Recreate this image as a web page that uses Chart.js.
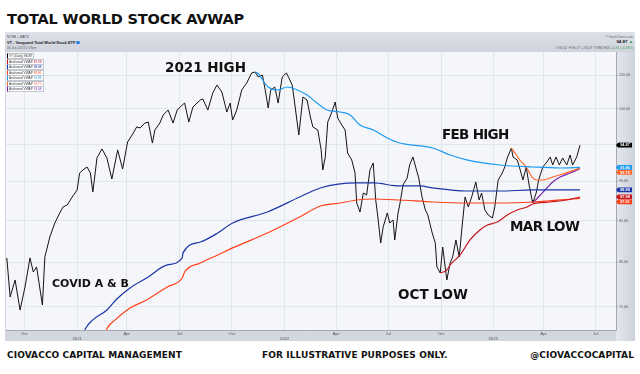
<!DOCTYPE html>
<html>
<head>
<meta charset="utf-8">
<script src="https://cdn.jsdelivr.net/npm/chart.js@4.4.1/dist/chart.umd.min.js"></script>
<style>
  html, body { margin: 0; padding: 0; background: #fff; }
  body { width: 640px; height: 374px; position: relative; overflow: hidden; font-family: "DejaVu Sans", sans-serif; }
  #title { position: absolute; left: 7px; top: 11.6px; font-size: 14.5px; font-weight: bold; letter-spacing: -0.15px; line-height: 1; color: #111; white-space: nowrap; }
  #shot { position: absolute; left: 5px; top: 32px; width: 630px; height: 309px; background: #d3d7e0; }
  #hdr { position: absolute; left: 0; top: 0; width: 630px; height: 20px; background: linear-gradient(#dde0e8, #cfd3dc); font-family: "Liberation Sans", sans-serif; color: #444; }
  #hdr div { position: absolute; white-space: nowrap; line-height: 1; }
  #wrap { position: absolute; left: 1px; top: 20px; width: 629px; height: 289px; }
  .lg { position: absolute; left: 2px; height: 4.4px; line-height: 4.4px; background: #fff; border: 0.4px solid #c3c7d0; border-left-width: 1.3px; font-family: "Liberation Sans", sans-serif; font-size: 3.2px; color: #333; padding: 0 1px; white-space: nowrap; }
  .ann { position: absolute; font-weight: bold; color: #111; line-height: 1; white-space: nowrap; font-size: 13.5px; }
  .foot { position: absolute; top: 351px; font-size: 9px; font-weight: bold; color: #111; line-height: 1; white-space: nowrap; letter-spacing: 0.1px; }
</style>
</head>
<body>
<div id="title">TOTAL WORLD STOCK AVWAP</div>

<div id="shot">
  <div id="hdr">
    <div style="left:2px; top:4px; font-size:3.4px;">NYSE + BATS</div>
    <div style="left:2px; top:8.6px; font-size:3.9px; font-weight:bold; color:#222;">VT - Vanguard Total World Stock ETF <span style="display:inline-block;width:3.4px;height:3.4px;border-radius:50%;background:#2a7de1;vertical-align:-0.5px;"></span></div>
    <div style="left:2px; top:14.5px; font-size:3.2px; color:#666;">06-Jun-2023 2:59pm</div>
    <div style="right:2px; top:4px; font-size:3.2px; color:#666;">© StockCharts.com</div>
    <div style="right:2px; top:8.4px; font-size:4.4px; font-weight:bold; color:#111;">94.87 <span style="color:#2e9e4f;">▲</span></div>
    <div style="right:2px; top:14.5px; font-size:3.2px; color:#555;">O 94.52 &nbsp;H 95.17 &nbsp;L 94.47 &nbsp;V 896,961k <span style="color:#2e9e4f;">+0.31 (+0.33%)</span></div>
  </div>
  <div id="wrap"><canvas id="c" width="629" height="289"></canvas></div>
  <div id="legend"></div>
</div>

<div class="ann" style="left:165px; top:61.4px;">2021 HIGH</div>
<div class="ann" style="left:442px; top:128.4px; letter-spacing:-0.7px;">FEB HIGH</div>
<div class="ann" style="left:510px; top:220.4px; letter-spacing:-0.6px;">MAR LOW</div>
<div class="ann" style="left:398px; top:288.4px;">OCT LOW</div>
<div class="ann" style="left:52px; top:277.7px; font-size:11px;">COVID A &amp; B</div>

<div class="foot" style="left:7px;">CIOVACCO CAPITAL MANAGEMENT</div>
<div class="foot" style="left:262px;">FOR ILLUSTRATIVE PURPOSES ONLY.</div>
<div class="foot" style="right:6px;">@CIOVACCOCAPITAL</div>

<script>
// x = trading-day index from the left edge of the chart (about 31 Aug 2020)
const xTickBars = [22, 86, 146, 210, 273, 337, 399, 462, 526, 589, 650, 713];
const xTickLabels = ['Oct', '2021', 'Apr', 'Jul', 'Oct', '2022', 'Apr', 'Jul', 'Oct', '2023', 'Apr', 'Jul'];
const yTickValues = [75, 80, 85, 90, 95, 100, 105];

// VT daily close
const priceBars = [1,5,11,17,23,29,33,37,44,47,53,59,65,69,74,80,86,89,93,98,102,105,110,116,122,128,135,141,147,154,158,162,168,172,177,180,186,190,196,202,207,213,216,221,226,235,238,244,250,255,261,267,271,274,279,285,291,297,301,305,310,313,317,320,325,329,334,339,342,346,349,354,359,364,368,371,377,381,383,386,389,394,398,401,406,410,413,418,422,424,428,432,436,440,444,447,450,453,456,461,464,468,470,474,476,480,485,488,492,497,499,503,507,510,515,519,521,525,528,531,533,537,540,544,548,551,555,559,563,568,572,575,579,583,588,591,595,600,603,606,611,613,618,621,625,629,632,636,637,641,644,649,654,658,661,665,669,673,678,682,685,690,694];
const priceValues = [80.51,76.06,77.97,74.63,77.18,80.51,78.88,79.46,75.18,80.63,83.00,84.71,85.95,86.71,86.96,87.97,88.88,91.10,91.50,91.90,91.10,88.62,93.12,94.35,93.12,90.31,94.21,91.63,95.31,96.57,97.42,97.28,97.98,98.12,95.17,96.99,97.98,99.13,99.85,97.98,99.85,100.58,100.87,98.12,100.29,101.32,101.47,99.85,102.36,103.55,102.50,99.56,100.87,98.41,99.85,102.80,103.85,105.38,105.53,104.77,105.07,103.10,100.15,102.80,103.25,100.87,104.77,105.38,104.62,103.55,100.87,96.29,101.76,101.32,98.84,97.42,96.99,94.21,91.50,93.25,98.12,99.56,101.02,98.70,97.70,96.99,93.79,92.85,91.10,87.21,86.08,88.49,88.23,91.50,92.44,87.59,85.08,82.28,84.21,85.95,84.71,85.08,82.64,85.95,86.96,89.53,90.44,92.17,93.25,91.23,90.44,87.97,86.33,85.70,83.60,82.28,79.46,78.76,81.80,79.46,77.97,79.92,80.63,82.64,80.63,83.85,87.97,86.71,87.97,89.92,87.59,88.49,86.33,85.70,85.33,86.71,90.18,91.10,91.90,93.12,94.48,93.25,92.85,91.77,90.18,91.90,89.79,87.59,87.21,88.49,90.18,91.90,92.58,93.25,92.17,93.25,92.17,93.12,92.17,93.52,92.17,93.25,94.87];

// anchored VWAP lines
const covidABars = [92,96,105,122,134,150,170,195,213,214,235,256,274,316,355,380,424,444,476,501,516,557,597,637,694];
const covidAValues = [71.65,72.63,73.56,74.63,75.84,77.06,78.19,79.69,80.51,81.10,82.40,83.48,84.71,86.08,87.97,89.14,89.79,89.79,89.40,89.40,89.14,88.75,88.75,88.88,88.88];
const covidBBars = [118,122,132,150,170,195,213,216,235,256,274,316,355,380,404,424,444,476,516,557,597,637,694];
const covidBValues = [71.65,72.63,73.56,74.85,75.73,77.18,78.19,78.88,79.92,80.86,81.69,83.48,85.45,86.83,87.21,87.59,87.72,87.59,87.34,87.21,87.21,87.34,87.81];
const highBars = [301,304,317,328,340,352,364,376,388,404,416,428,444,461,476,501,516,537,557,597,637,670,694];
const highValues = [105.53,105.38,103.25,102.80,103.25,102.80,102.06,100.87,99.85,99.56,99.13,97.70,96.99,95.87,95.17,94.76,94.48,93.52,92.85,92.17,91.90,91.77,91.86];
const octBars = [525,533,537,549,561,573,582,594,606,618,630,637,658,678,694];
const octValues = [78.76,79.10,79.69,80.86,82.64,83.85,84.46,84.83,85.70,86.33,86.71,87.09,87.34,87.59,87.98];
const febBars = [611,617,621,629,636,642,649,661,673,694];
const febValues = [94.48,93.52,92.85,91.90,90.57,90.18,90.18,90.57,90.97,91.75];
const marBars = [637,646,654,661,670,682,694];
const marValues = [87.21,88.23,89.14,89.92,90.57,91.10,91.68];

function pts(bars, vals) {
    return bars.map((b, i) => ({ x: b, y: vals[i] }));
}

function vwap(label, bars, vals, color, tag) {
    return {
        label: label,
        data: pts(bars, vals),
        borderColor: color,
        borderWidth: 1.2,
        pointRadius: 0,
        cubicInterpolationMode: 'monotone',
        order: 1,
        tag: tag
    };
}

const datasets = [
    vwap('Anchored VWAP', octBars, octValues, '#c8161f', true),
    vwap('Anchored VWAP', covidABars, covidAValues, '#1b34a8', true),
    vwap('Anchored VWAP', covidBBars, covidBValues, '#ff4119', true),
    vwap('Anchored VWAP', highBars, highValues, '#1e9af0', true),
    vwap('Anchored VWAP', febBars, febValues, '#ff6a2e', true),
    vwap('Anchored VWAP', marBars, marValues, '#7b22b0', false),
    {
        label: 'VT (Daily)',
        data: pts(priceBars, priceValues),
        borderColor: '#141414',
        borderWidth: 1,
        pointRadius: 0,
        tension: 0,
        order: 10,
        tag: true,
        tagColor: '#000'
    }
];

// petite légende en haut à gauche
const legendRows = [datasets[6], datasets[0], datasets[1], datasets[2], datasets[3], datasets[4], datasets[5]];
const legendCenters = [23, 29, 34, 40, 45, 51, 56];
const legendBox = document.getElementById('legend');
legendRows.forEach((ds, i) => {
    const last = ds.data[ds.data.length - 1].y.toFixed(2);
    const col = ds.tagColor || ds.borderColor;
    const row = document.createElement('div');
    row.className = 'lg';
    row.style.top = (legendCenters[i] - 2.4) + 'px';
    row.style.borderLeftColor = col;
    row.innerHTML = ds.label + ' <span style="color:' + col + '">' + last + '</span>';
    legendBox.appendChild(row);
});

// fonds du graphique
const bgPlugin = {
    id: 'bg',
    beforeDraw(chart) {
        const { ctx, chartArea: a, width, height } = chart;
        ctx.save();
        const g = ctx.createLinearGradient(a.right, 0, width, 0);
        g.addColorStop(0, '#e4e7ee');
        g.addColorStop(1, '#cdd1da');
        ctx.fillStyle = g;
        ctx.fillRect(a.right, 0, width - a.right, height);
        ctx.fillStyle = '#d3d7e0';
        ctx.fillRect(0, a.bottom, a.right, height - a.bottom);
        ctx.fillStyle = '#f5f6fa';
        ctx.fillRect(a.left, a.top, a.right - a.left, a.bottom - a.top);
        ctx.restore();
    }
};

// étiquettes de prix sur l'axe de droite
const tagPlugin = {
    id: 'tags',
    afterDraw(chart) {
        const { ctx, chartArea: a } = chart;
        const ys = chart.scales.y;
        const tags = [];
        chart.data.datasets.forEach(ds => {
            if (!ds.tag) return;
            const v = ds.data[ds.data.length - 1].y;
            tags.push({ v: v, y: ys.getPixelForValue(v), c: ds.tagColor || ds.borderColor });
        });
        tags.sort((p, q) => p.y - q.y);
        for (let i = 1; i < tags.length; i++) {
            if (tags[i].y < tags[i - 1].y + 5) tags[i].y = tags[i - 1].y + 5;
        }
        ctx.save();
        ctx.font = 'bold 3.8px "Liberation Sans"';
        ctx.textAlign = 'center';
        ctx.textBaseline = 'middle';
        tags.forEach(t => {
            ctx.fillStyle = t.c;
            ctx.beginPath();
            ctx.moveTo(a.right, t.y);
            ctx.lineTo(a.right + 2, t.y - 2.4);
            ctx.lineTo(a.right + 16, t.y - 2.4);
            ctx.lineTo(a.right + 16, t.y + 2.4);
            ctx.lineTo(a.right + 2, t.y + 2.4);
            ctx.closePath();
            ctx.fill();
            ctx.fillStyle = '#fff';
            ctx.fillText(t.v.toFixed(2), a.right + 9, t.y + 0.2);
        });
        ctx.restore();
    }
};

const ctx = document.getElementById('c').getContext('2d');
new Chart(ctx, {
    type: 'line',
    data: { datasets: datasets },
    plugins: [bgPlugin, tagPlugin],
    options: {
        responsive: false,
        animation: false,
        devicePixelRatio: 1,
        layout: { padding: 0 },
        plugins: { legend: { display: false }, tooltip: { enabled: false } },
        scales: {
            x: {
                type: 'linear',
                min: 0,
                max: 737.5,
                afterBuildTicks: s => { s.ticks = xTickBars.map(v => ({ value: v })); },
                afterFit: s => { s.height = 11; s.paddingLeft = 0; s.paddingRight = 0; },
                ticks: {
                    autoSkip: false,
                    maxRotation: 0,
                    padding: 0.5,
                    color: '#555',
                    font: { size: 4.2, family: 'Liberation Sans' },
                    callback: (v, i) => {
                        const l = xTickLabels[i];
                        return /^\d{4}$/.test(l) ? ['', l] : l;
                    }
                },
                grid: { color: '#e2e5ec', tickLength: 1, tickColor: '#9aa0ad' },
                border: { color: '#a3a8b3' }
            },
            y: {
                type: 'logarithmic',
                position: 'right',
                min: 72.49,
                max: 108.65,
                afterBuildTicks: s => { s.ticks = yTickValues.map(v => ({ value: v })); },
                afterFit: s => { s.width = 19; s.paddingTop = 0; s.paddingBottom = 0; },
                ticks: {
                    padding: 1,
                    color: '#555',
                    font: { size: 3.6, family: 'Liberation Sans' },
                    callback: v => Number(v).toFixed(2)
                },
                grid: { color: '#e2e5ec', tickLength: 2, tickColor: '#9aa0ad' },
                border: { color: '#a3a8b3' }
            }
        }
    }
});
</script>
</body>
</html>
